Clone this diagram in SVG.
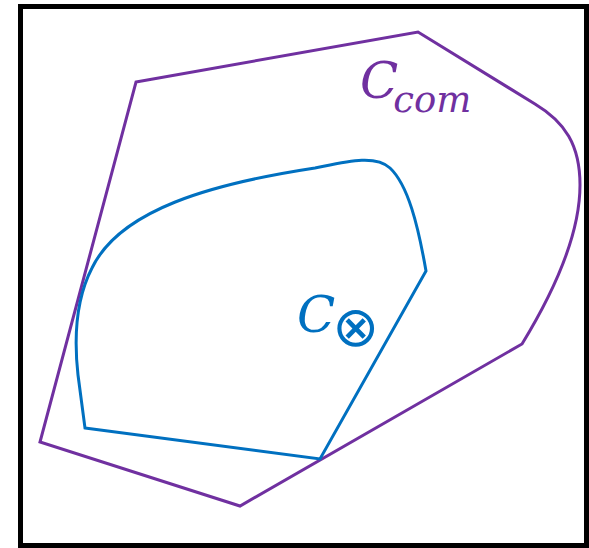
<svg xmlns="http://www.w3.org/2000/svg" width="589" height="548" viewBox="0 0 589 548">
<style>
.frame{fill:#fff;stroke:#000;stroke-width:5}
.region{fill:none;stroke-width:3;stroke-linejoin:miter}
.com{stroke:#7030A0}
.otimes{stroke:#0070C0}
.lbl{font-family:"DejaVu Serif",serif;font-style:italic}
</style>
<rect class="frame" x="20.5" y="6.5" width="566" height="539"/>
<g id="region-com">
<path class="region com" d="M136,82 L418,32 L535,104 C565,122 580,145 580,185 C580,235 555,290 522,344 L240,506 L40,442 Z"/>
<text class="lbl" x="360" y="98" font-size="50" fill="#7030A0">C<tspan font-size="37" dx="-5" dy="14">com</tspan></text>
</g>
<g id="region-otimes">
<path class="region otimes" d="M85,428 L320,459 L426,271 C418,225 408,185 390,168 C375,154 345,162 315,168 C210,184 120,210 92,268 C78,295 73,330 78,375 Z"/>
<text class="lbl" x="297" y="332" font-size="50" fill="#0070C0">C<tspan font-family="DejaVu Sans,sans-serif" font-style="normal" font-size="56" dx="-3" dy="14">⊗</tspan></text>
</g>
</svg>
